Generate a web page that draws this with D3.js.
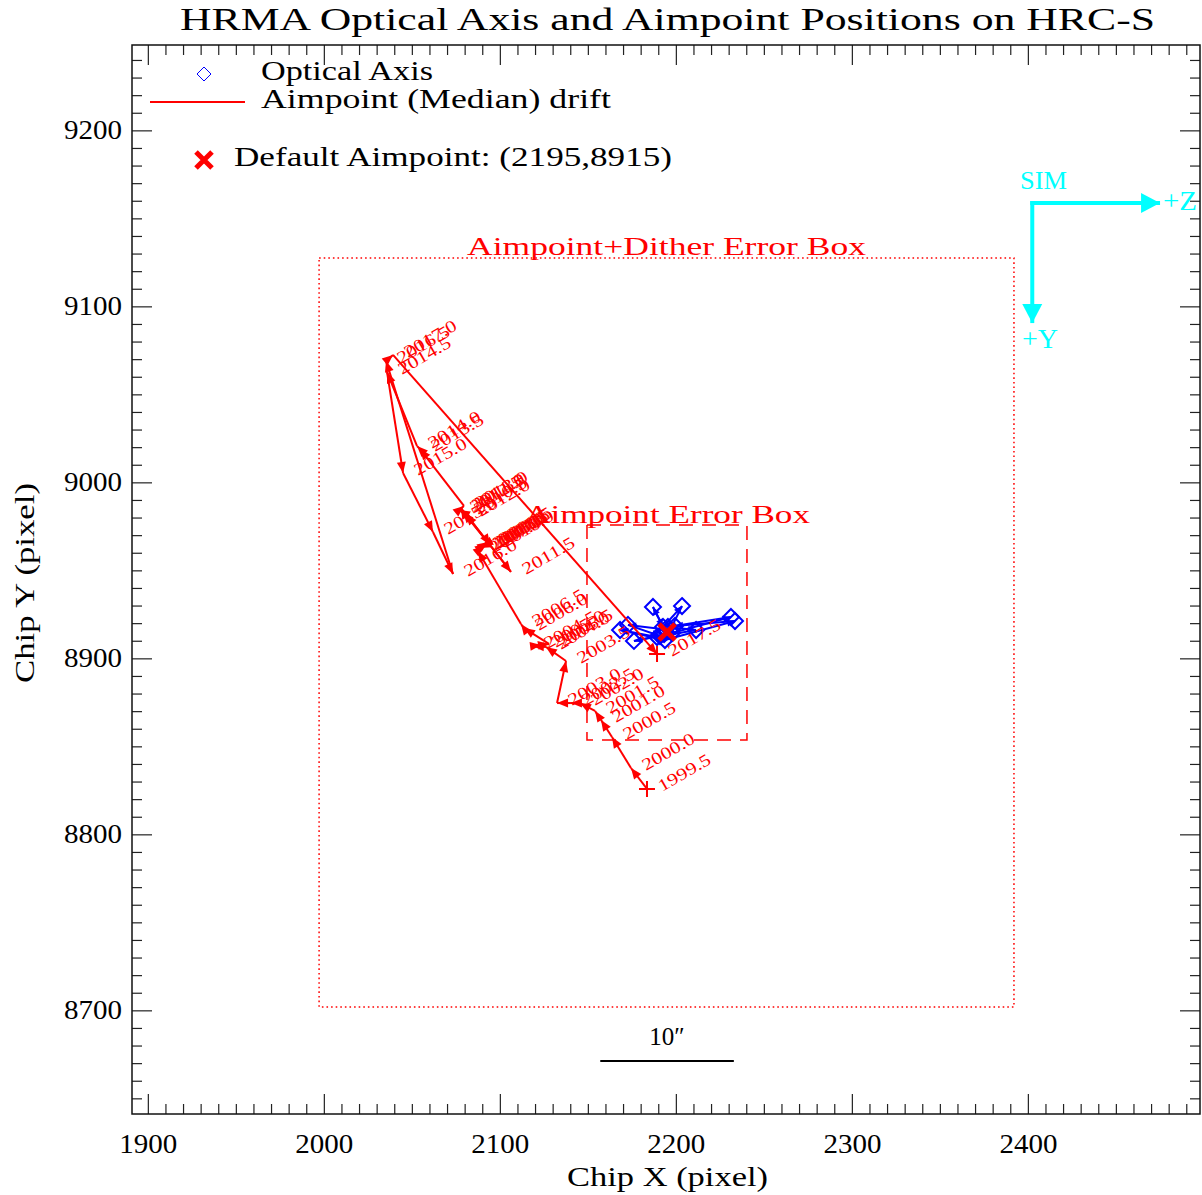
<!DOCTYPE html>
<html>
<head>
<meta charset="utf-8">
<script src="https://cdn.jsdelivr.net/npm/d3@7"></script>
<style>
  body { margin: 0; background: #fff; }
  svg { display: block; }
  text { font-family: "Liberation Serif", "Times New Roman", serif; }
</style>
</head>
<body>
<svg id="chart" width="1202" height="1195"></svg>
<script>
// ---- data -------------------------------------------------------------
// Half-yearly median aimpoint positions on HRC-S (chip pixels)
const driftYears = [1999.5, 2000.0, 2000.5, 2001.0, 2001.5, 2002.0, 2002.5, 2003.0, 2003.5,
                    2004.0, 2004.5, 2005.0, 2005.5, 2006.0, 2006.5, 2007.0, 2007.5, 2008.0,
                    2008.5, 2009.0, 2009.5, 2010.0, 2010.5, 2011.0, 2011.5, 2012.0, 2012.5,
                    2013.0, 2013.5, 2014.0, 2014.5, 2015.0, 2015.5, 2016.0, 2016.5, 2017.0, 2017.5];
const driftX = [2183.6, 2174.5, 2163.7, 2157.5, 2154.1, 2145.5, 2140.4, 2132.5, 2137.6,
                2126.2, 2118.8, 2123.4, 2127.9, 2113.7, 2112.0, 2087.6, 2091.0, 2088.7,
                2092.1, 2089.9, 2093.3, 2094.4, 2079.1, 2077.9, 2106.3, 2080.8, 2076.8,
                2079.6, 2054.6, 2052.9, 2035.9, 2045.0, 2062.0, 2073.4, 2035.3, 2039.3, 2189.3];
const driftY = [8825.8, 8837.7, 8855.3, 8865.0, 8870.1, 8874.6, 8874.6, 8874.6, 8898.5,
                8906.5, 8907.0, 8907.6, 8908.2, 8917.2, 8919.5, 8961.0, 8963.8, 8962.7,
                8965.0, 8963.8, 8966.1, 8964.4, 8983.2, 8985.4, 8949.1, 8982.0, 8984.3,
                8986.6, 9019.0, 9020.7, 9062.7, 9005.3, 8971.8, 8947.9, 9069.0, 9072.4, 8902.5];

// HRMA optical axis positions (chip pixels), in time order
const opticalX = [2194.4, 2187.0, 2192.7, 2203.5, 2196.7, 2172.8, 2191.0, 2176.2, 2197.8,
                  2231.3, 2195.5, 2211.5, 2189.3, 2168.3, 2193.8, 2233.6, 2199.5, 2193.3];
const opticalY = [8915.0, 8929.2, 8917.8, 8929.7, 8916.1, 8919.0, 8912.7, 8909.9, 8914.4,
                  8923.5, 8917.8, 8916.1, 8912.1, 8916.1, 8910.4, 8921.2, 8918.4, 8913.8];

const defaultAimpoint = [2195, 8915];

// Error boxes [xmin, xmax, ymin, ymax]
const ditherBox = [1997.3, 2392.1, 8701.9, 9127.5];
const aimpointBox = [2149.5, 2240.4, 8853.6, 8975.8];

// Axis ranges and tick values
const xRange = [1891.0, 2497.8];
const yRange = [8641.1, 9248.5];
const xTicks = [1900, 2000, 2100, 2200, 2300, 2400];
const yTicks = [8700, 8800, 8900, 9000, 9100, 9200];
const xMinorTicks = d3.range(1900, 2491, 10);
const yMinorTicks = d3.range(8650, 9241, 10);

// 10 arcsec scale bar (HRC-S plate scale, arcsec per pixel)
const scaleArcsec = 10;
const plateScale = 0.13175;
const scaleBarCenter = [2195, 8671.2];

// SIM orientation compass: origin and arm tips (chip pixels)
const simOrigin = [2402.5, 9158.7];
const simZTip = [2475.1, 9158.7];
const simYTip = [2402.5, 9090.5];

// ---- layout -----------------------------------------------------------
const L = 132, R = 1200, T = 45, B = 1114;
const svg = d3.select("#chart");
const x = d3.scaleLinear().domain(xRange).range([L, R]);
const y = d3.scaleLinear().domain(yRange).range([B, T]);

const RED = "#ff0000", BLUE = "#0000ff", CYAN = "#00ffff";

// ---- axes -------------------------------------------------------------
function styleAxis(g) {
  g.select(".domain").remove();
  g.selectAll(".tick line").attr("stroke", "#222").attr("stroke-width", 1.2);
}
const fmt = d3.format("d");
const axes = svg.append("g");
// major ticks with labels
axes.append("g").attr("transform", `translate(0,${B})`)
  .call(d3.axisBottom(x).tickValues(xTicks).tickFormat(fmt).tickSize(-20).tickSizeOuter(0).tickPadding(20))
  .call(styleAxis);
axes.append("g").attr("transform", `translate(${L},0)`)
  .call(d3.axisLeft(y).tickValues(yTicks).tickFormat(fmt).tickSize(-20).tickSizeOuter(0).tickPadding(10))
  .call(styleAxis);
axes.append("g").attr("transform", `translate(0,${T})`)
  .call(d3.axisTop(x).tickValues(xTicks).tickSize(-20).tickSizeOuter(0).tickFormat(""))
  .call(styleAxis);
axes.append("g").attr("transform", `translate(${R},0)`)
  .call(d3.axisRight(y).tickValues(yTicks).tickSize(-20).tickSizeOuter(0).tickFormat(""))
  .call(styleAxis);
// minor ticks
const minorX = xMinorTicks.filter(v => !xTicks.includes(v));
const minorY = yMinorTicks.filter(v => !yTicks.includes(v));
axes.append("g").attr("transform", `translate(0,${B})`)
  .call(d3.axisBottom(x).tickValues(minorX).tickSize(-10).tickSizeOuter(0).tickFormat("")).call(styleAxis);
axes.append("g").attr("transform", `translate(0,${T})`)
  .call(d3.axisTop(x).tickValues(minorX).tickSize(-10).tickSizeOuter(0).tickFormat("")).call(styleAxis);
axes.append("g").attr("transform", `translate(${L},0)`)
  .call(d3.axisLeft(y).tickValues(minorY).tickSize(-10).tickSizeOuter(0).tickFormat("")).call(styleAxis);
axes.append("g").attr("transform", `translate(${R},0)`)
  .call(d3.axisRight(y).tickValues(minorY).tickSize(-10).tickSizeOuter(0).tickFormat("")).call(styleAxis);

axes.selectAll(".tick text")
  .attr("font-family", '"Liberation Serif", serif')
  .attr("font-size", 27)
  .attr("fill", "#000")
  .attr("textLength", 58)
  .attr("lengthAdjust", "spacingAndGlyphs");

// plot frame
svg.append("rect").attr("x", L).attr("y", T).attr("width", R - L).attr("height", B - T)
  .attr("fill", "none").attr("stroke", "#111").attr("stroke-width", 1.5);

// titles
svg.append("text").attr("x", 180).attr("y", 30).attr("font-size", 32)
  .attr("textLength", 975).attr("lengthAdjust", "spacingAndGlyphs")
  .text("HRMA Optical Axis and Aimpoint Positions on HRC-S");
svg.append("text").attr("x", 567).attr("y", 1186).attr("font-size", 28)
  .attr("textLength", 201).attr("lengthAdjust", "spacingAndGlyphs")
  .text("Chip X (pixel)");
svg.append("text").attr("transform", "translate(34,683) rotate(-90)").attr("font-size", 28)
  .attr("textLength", 200).attr("lengthAdjust", "spacingAndGlyphs")
  .text("Chip Y (pixel)");

// ---- error boxes ------------------------------------------------------
function box(b, dash) {
  return svg.append("rect")
    .attr("x", x(b[0])).attr("y", y(b[3]))
    .attr("width", x(b[1]) - x(b[0])).attr("height", y(b[2]) - y(b[3]))
    .attr("fill", "none").attr("stroke", RED).attr("stroke-width", 1.5)
    .attr("stroke-dasharray", dash);
}
box(ditherBox, "1.6,3");
box(aimpointBox, "14,9");
svg.append("text").attr("x", 467).attr("y", 255).attr("font-size", 26).attr("fill", RED)
  .attr("textLength", 399).attr("lengthAdjust", "spacingAndGlyphs")
  .text("Aimpoint+Dither Error Box");
svg.append("text").attr("x", 525).attr("y", 523).attr("font-size", 26).attr("fill", RED)
  .attr("textLength", 285).attr("lengthAdjust", "spacingAndGlyphs")
  .text("Aimpoint Error Box");

// ---- arrows helper ----------------------------------------------------
function arrow(g, x0, y0, x1, y1, color, headLen, headHalf, width) {
  const a = Math.atan2(y1 - y0, x1 - x0);
  g.append("line").attr("x1", x0).attr("y1", y0).attr("x2", x1).attr("y2", y1)
    .attr("stroke", color).attr("stroke-width", width);
  const bx = x1 - headLen * Math.cos(a), by = y1 - headLen * Math.sin(a);
  const px = -Math.sin(a) * headHalf, py = Math.cos(a) * headHalf;
  g.append("path")
    .attr("d", `M${x1},${y1}L${bx + px},${by + py}L${bx - px},${by - py}Z`)
    .attr("fill", color);
}

// ---- optical axis track ----------------------------------------------
const gOpt = svg.append("g");
for (let i = 1; i < opticalX.length; i++) {
  arrow(gOpt, x(opticalX[i - 1]), y(opticalY[i - 1]), x(opticalX[i]), y(opticalY[i]), BLUE, 8, 3.5, 2);
}
const diamond = (cx, cy, r) => `M${cx},${cy - r}L${cx + r},${cy}L${cx},${cy + r}L${cx - r},${cy}Z`;
gOpt.selectAll("path.opt").data(opticalX).join("path").attr("class", "opt")
  .attr("d", (d, i) => diamond(x(d), y(opticalY[i]), 8))
  .attr("fill", "none").attr("stroke", BLUE).attr("stroke-width", 2);

// ---- aimpoint drift track --------------------------------------------
const gDrift = svg.append("g");
for (let i = 1; i < driftX.length; i++) {
  arrow(gDrift, x(driftX[i - 1]), y(driftY[i - 1]), x(driftX[i]), y(driftY[i]), RED, 11, 4.5, 2);
}
// start and end markers
[0, driftX.length - 1].forEach(i => {
  const cx = x(driftX[i]), cy = y(driftY[i]);
  gDrift.append("path").attr("d", `M${cx - 8},${cy}H${cx + 8}M${cx},${cy - 8}V${cy + 8}`)
    .attr("stroke", RED).attr("stroke-width", 2);
});
// year labels
gDrift.selectAll("text.yr").data(driftYears).join("text").attr("class", "yr")
  .attr("transform", (d, i) => `translate(${x(driftX[i]) + 15},${y(driftY[i]) + 3}) rotate(-30)`)
  .attr("font-size", 17).attr("fill", RED)
  .attr("textLength", 58).attr("lengthAdjust", "spacingAndGlyphs")
  .text(d => d.toFixed(1));

// ---- default aimpoint -------------------------------------------------
function crossMark(g, cx, cy, r, w) {
  g.append("path").attr("d", `M${cx - r},${cy - r}L${cx + r},${cy + r}M${cx - r},${cy + r}L${cx + r},${cy - r}`)
    .attr("stroke", RED).attr("stroke-width", w);
}
crossMark(svg, x(defaultAimpoint[0]), y(defaultAimpoint[1]), 8, 5);

// ---- legend -----------------------------------------------------------
const leg = svg.append("g");
leg.append("path").attr("d", diamond(204, 74, 7)).attr("fill", "none").attr("stroke", BLUE).attr("stroke-width", 1);
leg.append("text").attr("x", 261).attr("y", 80).attr("font-size", 27)
  .attr("textLength", 172).attr("lengthAdjust", "spacingAndGlyphs").text("Optical Axis");
leg.append("line").attr("x1", 150).attr("x2", 245).attr("y1", 102).attr("y2", 102)
  .attr("stroke", RED).attr("stroke-width", 2);
leg.append("text").attr("x", 261).attr("y", 108).attr("font-size", 27)
  .attr("textLength", 350).attr("lengthAdjust", "spacingAndGlyphs").text("Aimpoint (Median) drift");
crossMark(leg, 204, 160, 8, 5);
leg.append("text").attr("x", 234).attr("y", 166).attr("font-size", 27)
  .attr("textLength", 438).attr("lengthAdjust", "spacingAndGlyphs")
  .text(`Default Aimpoint: (${defaultAimpoint[0]},${defaultAimpoint[1]})`);

// ---- SIM compass ------------------------------------------------------
const gSim = svg.append("g");
arrow(gSim, x(simOrigin[0]) - 2, y(simOrigin[1]), x(simZTip[0]), y(simZTip[1]), CYAN, 19, 10, 4);
arrow(gSim, x(simOrigin[0]), y(simOrigin[1]) - 2, x(simYTip[0]), y(simYTip[1]), CYAN, 19, 10, 4);
gSim.append("text").attr("x", 1020).attr("y", 189).attr("font-size", 25).attr("fill", CYAN)
  .attr("textLength", 47).attr("lengthAdjust", "spacingAndGlyphs").text("SIM");
gSim.append("text").attr("x", 1163).attr("y", 210).attr("font-size", 27).attr("fill", CYAN)
  .attr("textLength", 34).attr("lengthAdjust", "spacingAndGlyphs").text("+Z");
gSim.append("text").attr("x", 1022).attr("y", 348).attr("font-size", 27).attr("fill", CYAN)
  .attr("textLength", 36).attr("lengthAdjust", "spacingAndGlyphs").text("+Y");

// ---- scale bar --------------------------------------------------------
const halfBar = scaleArcsec / plateScale / 2;
svg.append("line")
  .attr("x1", x(scaleBarCenter[0] - halfBar)).attr("x2", x(scaleBarCenter[0] + halfBar))
  .attr("y1", y(scaleBarCenter[1])).attr("y2", y(scaleBarCenter[1]))
  .attr("stroke", "#000").attr("stroke-width", 2);
svg.append("text").attr("x", x(scaleBarCenter[0])).attr("y", 1045).attr("font-size", 25)
  .attr("text-anchor", "middle").text(`${scaleArcsec}\u2033`);
</script>
</body>
</html>
